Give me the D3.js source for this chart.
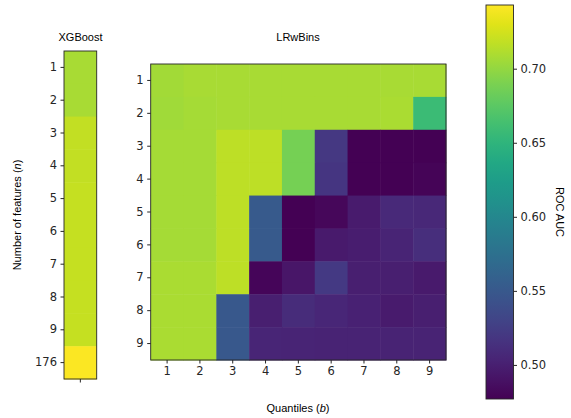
<!DOCTYPE html>
<html>
<head>
<meta charset="utf-8">
<script src="https://cdn.jsdelivr.net/npm/d3@7"></script>
<style>
  body { margin: 0; background: #fff; }
  .tick text { font-family: "DejaVu Sans", sans-serif; font-size: 11.5px; fill: #262626; }
  .lbl { font-family: "Liberation Sans", Arial, sans-serif; font-size: 11px; fill: #000; }
</style>
</head>
<body>
<div id="chart"></div>
<script>
// ROC AUC of XGBoost vs LRwBins, per number of features (n) and quantiles (b)

var xgbRows = ["1", "2", "3", "4", "5", "6", "7", "8", "9", "176"];
var xgbAuc = [0.708, 0.708, 0.719, 0.719, 0.720, 0.720, 0.720, 0.720, 0.720, 0.741];

var quantiles = [1, 2, 3, 4, 5, 6, 7, 8, 9];
var features = [1, 2, 3, 4, 5, 6, 7, 8, 9];

// rows = number of features, cols = quantiles
var aucN1 = [0.706, 0.708, 0.708, 0.708, 0.708, 0.708, 0.708, 0.708, 0.708];
var aucN2 = [0.705, 0.707, 0.708, 0.708, 0.708, 0.708, 0.708, 0.709, 0.658];
var aucN3 = [0.707, 0.707, 0.717, 0.717, 0.687, 0.520, 0.477, 0.477, 0.478];
var aucN4 = [0.707, 0.707, 0.717, 0.717, 0.687, 0.518, 0.478, 0.477, 0.480];
var aucN5 = [0.707, 0.707, 0.717, 0.551, 0.478, 0.482, 0.496, 0.508, 0.507];
var aucN6 = [0.707, 0.707, 0.717, 0.551, 0.477, 0.495, 0.498, 0.503, 0.512];
var aucN7 = [0.709, 0.709, 0.717, 0.481, 0.492, 0.521, 0.499, 0.499, 0.495];
var aucN8 = [0.709, 0.709, 0.549, 0.499, 0.510, 0.506, 0.501, 0.496, 0.499];
var aucN9 = [0.709, 0.709, 0.549, 0.505, 0.503, 0.502, 0.502, 0.502, 0.502];
var lrwbins = [aucN1, aucN2, aucN3, aucN4, aucN5, aucN6, aucN7, aucN8, aucN9];

var cbarTicks = [0.50, 0.55, 0.60, 0.65, 0.70];
var vmin = 0.477, vmax = 0.743;

var width = 571, height = 418;

var svg = d3.select("#chart")
  .append("svg")
  .attr("width", width)
  .attr("height", height);

var color = d3.scaleSequential(d3.interpolateViridis).domain([vmin, vmax]);

// ---- XGBoost column
var xgbY = d3.scaleBand().domain(xgbRows).range([51, 379]);
var xgbX = d3.scaleBand().domain(["x"]).range([64, 96.7]);

var gx = svg.append("g");
gx.selectAll("rect")
  .data(xgbRows)
  .join("rect")
    .attr("x", xgbX("x"))
    .attr("y", d => xgbY(d))
    .attr("width", xgbX.bandwidth())
    .attr("height", xgbY.bandwidth() + 0.5)
    .attr("fill", (d, i) => color(xgbAuc[i]));

gx.append("rect")
  .attr("x", 64).attr("y", 51)
  .attr("width", xgbX.bandwidth()).attr("height", 328)
  .attr("fill", "none").attr("stroke", "#262626").attr("stroke-width", 0.9);

svg.append("g")
  .attr("transform", "translate(64,0)")
  .call(d3.axisLeft(xgbY).tickSize(3.5).tickPadding(3.5))
  .call(g => g.select(".domain").remove())
  .call(g => g.selectAll("line").attr("stroke", "#262626"));

svg.append("g")
  .attr("transform", "translate(0,379)")
  .call(d3.axisBottom(xgbX).tickSize(3.5).tickFormat(""))
  .call(g => g.select(".domain").remove())
  .call(g => g.selectAll("line").attr("stroke", "#262626"));

svg.append("text").attr("class", "lbl")
  .attr("x", 80.5).attr("y", 41).attr("text-anchor", "middle")
  .text("XGBoost");

// ---- LRwBins heatmap
var x = d3.scaleBand().domain(quantiles).range([150.7, 446]);
var y = d3.scaleBand().domain(features).range([64, 360]);

var cells = [];
lrwbins.forEach((row, i) => row.forEach((v, j) => cells.push({n: features[i], b: quantiles[j], v: v})));

var gh = svg.append("g");
gh.selectAll("rect")
  .data(cells)
  .join("rect")
    .attr("x", d => x(d.b))
    .attr("y", d => y(d.n))
    .attr("width", x.bandwidth() + 0.5)
    .attr("height", y.bandwidth() + 0.5)
    .attr("fill", d => color(d.v));

gh.append("rect")
  .attr("x", 150.7).attr("y", 64)
  .attr("width", 446 - 150.7).attr("height", 360 - 64)
  .attr("fill", "none").attr("stroke", "#262626").attr("stroke-width", 0.9);

svg.append("g")
  .attr("transform", "translate(150.7,0)")
  .call(d3.axisLeft(y).tickSize(3.5).tickPadding(3.5))
  .call(g => g.select(".domain").remove())
  .call(g => g.selectAll("line").attr("stroke", "#262626"));

svg.append("g")
  .attr("transform", "translate(0,360)")
  .call(d3.axisBottom(x).tickSize(3.5).tickPadding(3.5))
  .call(g => g.select(".domain").remove())
  .call(g => g.selectAll("line").attr("stroke", "#262626"));

svg.append("text").attr("class", "lbl")
  .attr("x", 298).attr("y", 41).attr("text-anchor", "middle")
  .text("LRwBins");

var xl = svg.append("text").attr("class", "lbl")
  .attr("x", 298).attr("y", 412).attr("text-anchor", "middle");
xl.append("tspan").text("Quantiles (");
xl.append("tspan").attr("font-style", "italic").text("b");
xl.append("tspan").text(")");

var yl = svg.append("text").attr("class", "lbl")
  .attr("transform", "translate(21,215) rotate(-90)")
  .attr("text-anchor", "middle");
yl.append("tspan").text("Number of features (");
yl.append("tspan").attr("font-style", "italic").text("n");
yl.append("tspan").text(")");

// ---- colorbar
var cbY = d3.scaleLinear().domain([vmin, vmax]).range([399, 5]);
var defs = svg.append("defs");
var grad = defs.append("linearGradient")
  .attr("id", "viridis")
  .attr("x1", 0).attr("y1", 1).attr("x2", 0).attr("y2", 0);
grad.selectAll("stop")
  .data(d3.range(0, 1.0001, 0.05))
  .join("stop")
    .attr("offset", d => d)
    .attr("stop-color", d => d3.interpolateViridis(d));

svg.append("rect")
  .attr("x", 486).attr("y", 5)
  .attr("width", 27.5).attr("height", 394)
  .attr("fill", "url(#viridis)")
  .attr("stroke", "#262626").attr("stroke-width", 0.9);

svg.append("g")
  .attr("transform", "translate(513.5,0)")
  .call(d3.axisRight(cbY).tickValues(cbarTicks).tickFormat(d3.format(".2f")).tickSize(3.5).tickPadding(3.5))
  .call(g => g.select(".domain").remove())
  .call(g => g.selectAll("line").attr("stroke", "#262626"));

svg.append("text").attr("class", "lbl")
  .attr("transform", "translate(556,212) rotate(90)")
  .attr("text-anchor", "middle")
  .text("ROC AUC");
</script>
</body>
</html>
